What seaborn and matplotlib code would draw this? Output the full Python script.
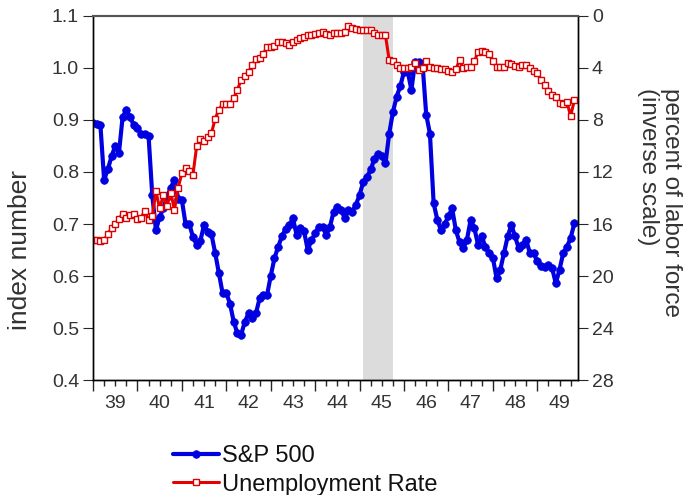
import numpy as np
import pandas as pd
import matplotlib
matplotlib.use("Agg")
import matplotlib.pyplot as plt
from matplotlib.ticker import MultipleLocator, FormatStrFormatter
import seaborn as sns

# monthly values, Jan 1939 .. Nov 1949
start_year = 1939
sp500 = [
    0.894, 0.893, 0.890, 0.785, 0.805, 0.830, 0.850, 0.836, 0.906, 0.919, 0.906, 0.890,  # 1939
    0.884, 0.874, 0.874, 0.870, 0.756, 0.688, 0.714, 0.730, 0.752, 0.770, 0.785, 0.749,  # 1940
    0.746, 0.700, 0.700, 0.675, 0.660, 0.668, 0.698, 0.685, 0.680, 0.644, 0.605, 0.567,  # 1941
    0.567, 0.547, 0.512, 0.490, 0.487, 0.512, 0.528, 0.519, 0.528, 0.557, 0.563, 0.563,  # 1942
    0.600, 0.634, 0.656, 0.676, 0.690, 0.698, 0.711, 0.679, 0.692, 0.686, 0.650, 0.669,  # 1943
    0.682, 0.695, 0.695, 0.679, 0.695, 0.724, 0.733, 0.727, 0.711, 0.727, 0.724, 0.737,  # 1944
    0.756, 0.781, 0.790, 0.805, 0.825, 0.835, 0.830, 0.817, 0.874, 0.915, 0.945, 0.965,  # 1945
    0.993, 0.993, 0.958, 1.012, 1.012, 1.008, 0.910, 0.874, 0.740, 0.708, 0.688, 0.700,  # 1946
    0.715, 0.730, 0.688, 0.665, 0.653, 0.670, 0.708, 0.692, 0.660, 0.676, 0.656, 0.644,  # 1947
    0.635, 0.596, 0.612, 0.644, 0.676, 0.698, 0.676, 0.653, 0.660, 0.669, 0.644, 0.644,  # 1948
    0.628, 0.620, 0.618, 0.621, 0.615, 0.586, 0.612, 0.644, 0.656, 0.673, 0.701,         # 1949
]
unemployment = [
    17.2, 17.2, 17.3, 17.2, 16.8, 16.3, 16.0, 15.6, 15.2, 15.5, 15.3, 15.2,  # 1939
    15.6, 15.5, 15.0, 15.7, 15.4, 13.5, 14.8, 13.8, 14.6, 13.6, 14.9, 13.2,  # 1940
    12.1, 11.7, 11.9, 12.2, 10.0, 9.5, 9.6, 9.3, 9.0, 7.9, 7.2, 6.8,        # 1941
    6.8, 6.8, 6.3, 5.7, 4.9, 4.6, 4.3, 3.8, 3.3, 3.2, 2.9, 2.4,             # 1942
    2.4, 2.3, 2.0, 2.0, 2.1, 2.2, 2.0, 1.85, 1.7, 1.6, 1.5, 1.45,           # 1943
    1.4, 1.3, 1.2, 1.4, 1.5, 1.3, 1.3, 1.3, 1.2, 0.8, 0.9, 1.0,             # 1944
    1.1, 1.1, 1.1, 1.1, 1.3, 1.5, 1.5, 1.5, 3.4, 3.5, 3.8, 4.0,             # 1945
    4.0, 4.0, 3.9, 3.6, 4.15, 4.0, 3.5, 3.9, 4.0, 4.0, 4.1, 4.1,            # 1946
    4.2, 4.3, 4.1, 3.4, 4.0, 3.9, 3.9, 3.5, 2.75, 2.7, 2.75, 2.9,           # 1947
    3.5, 3.9, 3.9, 3.9, 3.6, 3.7, 3.85, 3.9, 3.8, 3.8, 4.0, 4.2,            # 1948
    4.4, 4.9, 5.3, 5.8, 6.1, 6.2, 6.7, 6.8, 6.6, 7.7, 6.5,                  # 1949
]
year_labels = ["39", "40", "41", "42", "43", "44", "45", "46", "47", "48", "49"]
recession = (1945 + 1 / 12, 1945 + 9 / 12)  # Feb 1945 - Oct 1945

n = len(sp500)
df = pd.DataFrame({
    "date": start_year + np.arange(n) / 12,
    "sp500": sp500,
    "unemp": unemployment,
})

sns.set_style("ticks")
plt.rcParams["font.family"] = ["Liberation Sans", "DejaVu Sans"]
grey_txt = "#333333"

fig, ax = plt.subplots(figsize=(6.91, 4.95), dpi=100)
fig.subplots_adjust(left=0.1346, right=0.8365, top=0.9677, bottom=0.2323)

ax.axvspan(*recession, color="#dcdcdc", lw=0, zorder=0)
sns.lineplot(data=df, x="date", y="sp500", ax=ax, color="#0000e0", lw=3,
             marker="o", markersize=5.5, markeredgecolor="#0000e0",
             markeredgewidth=0.5, label="S&P 500")

ax2 = ax.twinx()
sns.lineplot(data=df, x="date", y="unemp", ax=ax2, color="#e60000", lw=2.2,
             marker="s", markersize=5, markerfacecolor="white",
             markeredgecolor="#dd0000", markeredgewidth=1.0,
             label="Unemployment Rate")

ax.set_xlim(start_year, start_year + n / 12)
ax.set_ylim(0.4, 1.1)
ax2.set_ylim(28, 0)

ax.xaxis.set_major_locator(MultipleLocator(1))
ax.xaxis.set_minor_locator(MultipleLocator(0.25))
ax.tick_params(axis="x", which="major", length=8, width=1, labelbottom=False)
ax.tick_params(axis="x", which="minor", length=4, width=1)
ax.yaxis.set_major_locator(MultipleLocator(0.1))
ax.yaxis.set_major_formatter(FormatStrFormatter("%.1f"))
ax.tick_params(axis="y", length=7, labelsize=14, labelcolor=grey_txt, pad=3)
ax2.yaxis.set_major_locator(MultipleLocator(4))
ax2.tick_params(axis="y", length=7, labelsize=14, labelcolor=grey_txt, pad=3)

sec = ax.secondary_xaxis("bottom")
sec.set_xticks(start_year + 0.5 + np.arange(len(year_labels)), year_labels)
sec.tick_params(length=0, pad=11, labelsize=14, labelcolor=grey_txt)
sec.spines["bottom"].set_visible(False)

ax.set_xlabel("")
ax.set_ylabel("")
ax2.set_ylabel("")
fig.text(0.029, 0.495, "index number", rotation=90, ha="center", va="center",
         fontsize=19, color=grey_txt)
fig.text(0.955, 0.59, "percent of labor force\n(inverse scale)", rotation=270,
         ha="center", va="center", multialignment="left", fontsize=17.5,
         color=grey_txt, linespacing=1.05)

for a in (ax, ax2):
    for s in a.spines.values():
        s.set_color("black")
        s.set_linewidth(1)
    a.spines["top"].set_color("#555555")
    a.spines["top"].set_linewidth(1.5)

h1, l1 = ax.get_legend_handles_labels()
h2, l2 = ax2.get_legend_handles_labels()
for a in (ax, ax2):
    if a.get_legend() is not None:
        a.get_legend().remove()
leg = fig.legend(h1 + h2, l1 + l2, loc="upper left", bbox_to_anchor=(0.251, 0.101),
                 frameon=False, fontsize=17, handlelength=1.95, handletextpad=0.1,
                 labelspacing=0.28, borderpad=0, borderaxespad=0)
for t in leg.get_texts():
    t.set_color("#111111")

fig.savefig("out.png", dpi=100)
